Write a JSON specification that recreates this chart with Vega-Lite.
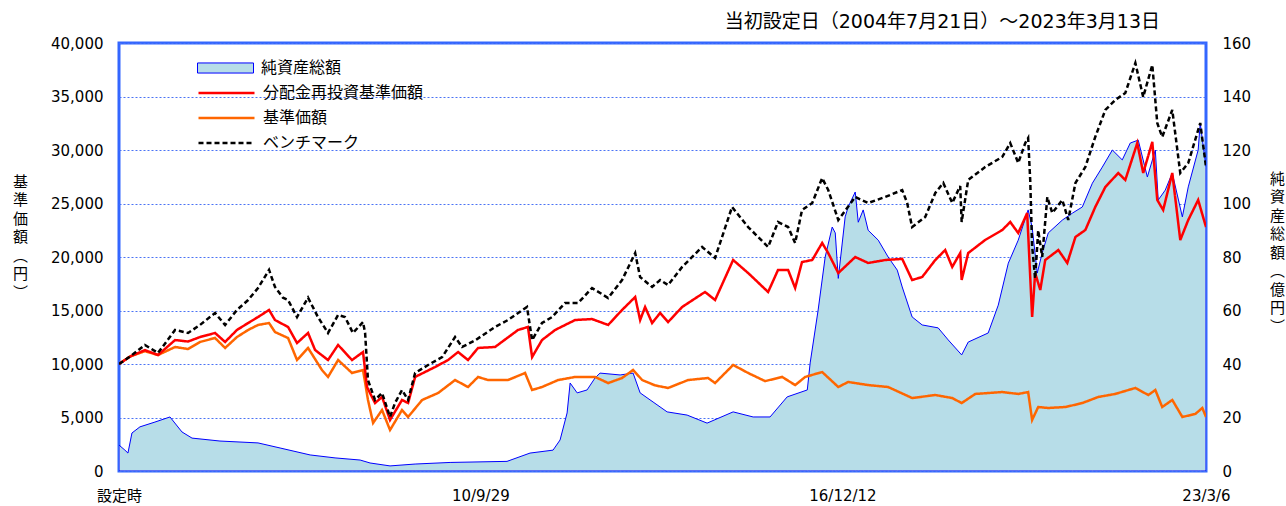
{
  "$schema": "https://vega.github.io/schema/vega-lite/v6.json",
  "width": 1087,
  "height": 428,
  "autosize": {"type": "none"},
  "padding": {"left": 119, "top": 43, "right": 80, "bottom": 35},
  "background": "white",
  "title": {"text": "当初設定日（2004年7月21日）～2023年3月13日", "anchor": "end", "frame": "group", "dx": -46, "offset": 4, "fontSize": 19, "fontWeight": "normal", "font": "DejaVu Sans, Noto Sans CJK JP", "color": "#000000"},
  "config": {
    "view": {"stroke": "#3366ff", "strokeWidth": 3},
    "axis": {"labelFont": "DejaVu Sans, Noto Sans CJK JP", "labelColor": "#000000", "labelFontSize": 15, "titleFont": "Noto Sans CJK JP", "titleColor": "#000000", "titleFontWeight": "normal"}
  },
  "datasets": {
    "assets": [
      {"d": "2004-07-21", "a": 9.7}, {"d": "2004-08-27", "a": 7.8}, {"d": "2004-09-15", "a": 6.7}, {"d": "2004-10-10", "a": 14.2},
      {"d": "2004-11-29", "a": 16.5}, {"d": "2005-03-03", "a": 18.3}, {"d": "2005-06-05", "a": 20.2}, {"d": "2005-08-19", "a": 14.6},
      {"d": "2005-10-21", "a": 12.3}, {"d": "2006-04-14", "a": 11.2}, {"d": "2006-12-08", "a": 10.5}, {"d": "2007-04-25", "a": 8.6},
      {"d": "2007-10-30", "a": 6.0}, {"d": "2008-04-03", "a": 4.9}, {"d": "2008-09-07", "a": 4.1}, {"d": "2008-11-08", "a": 3.0},
      {"d": "2009-03-13", "a": 1.9}, {"d": "2009-08-17", "a": 2.6}, {"d": "2010-03-24", "a": 3.2}, {"d": "2011-03-15", "a": 3.6},
      {"d": "2011-08-06", "a": 6.7}, {"d": "2011-12-28", "a": 7.8}, {"d": "2012-02-10", "a": 11.6}, {"d": "2012-03-25", "a": 21.7},
      {"d": "2012-04-13", "a": 32.9}, {"d": "2012-05-27", "a": 29.2}, {"d": "2012-07-28", "a": 30.3}, {"d": "2012-09-16", "a": 34.8},
      {"d": "2012-10-17", "a": 36.6}, {"d": "2013-02-20", "a": 35.9}, {"d": "2013-05-12", "a": 36.6}, {"d": "2013-06-25", "a": 29.2},
      {"d": "2013-09-14", "a": 25.8}, {"d": "2013-12-11", "a": 22.1}, {"d": "2014-04-15", "a": 20.9}, {"d": "2014-08-18", "a": 17.9},
      {"d": "2015-01-28", "a": 22.1}, {"d": "2015-06-02", "a": 20.2}, {"d": "2015-09-16", "a": 20.2}, {"d": "2016-01-01", "a": 27.7},
      {"d": "2016-05-06", "a": 30.3}, {"d": "2016-05-24", "a": 40.4}, {"d": "2016-07-13", "a": 60.2}, {"d": "2016-08-26", "a": 80},
      {"d": "2016-10-09", "a": 91.2}, {"d": "2016-10-28", "a": 89}, {"d": "2016-11-16", "a": 72}, {"d": "2016-12-29", "a": 95},
      {"d": "2017-01-17", "a": 98.7}, {"d": "2017-03-02", "a": 104.3}, {"d": "2017-03-21", "a": 93}, {"d": "2017-04-21", "a": 97.6},
      {"d": "2017-05-22", "a": 90}, {"d": "2017-07-24", "a": 86.3}, {"d": "2017-09-24", "a": 80}, {"d": "2017-11-20", "a": 75.1},
      {"d": "2017-12-21", "a": 68.8}, {"d": "2018-02-21", "a": 57.6}, {"d": "2018-04-25", "a": 54.6}, {"d": "2018-08-03", "a": 53.5},
      {"d": "2018-10-05", "a": 49}, {"d": "2018-12-28", "a": 43.4}, {"d": "2019-02-07", "a": 48.2}, {"d": "2019-06-12", "a": 51.6},
      {"d": "2019-08-14", "a": 62}, {"d": "2019-10-16", "a": 77.7}, {"d": "2019-12-17", "a": 86.3}, {"d": "2020-02-17", "a": 97.6},
      {"d": "2020-03-13", "a": 91.2}, {"d": "2020-04-14", "a": 74}, {"d": "2020-05-15", "a": 81.5}, {"d": "2020-06-22", "a": 89},
      {"d": "2020-09-18", "a": 93.8}, {"d": "2020-11-20", "a": 96.4}, {"d": "2021-01-21", "a": 98.7}, {"d": "2021-03-25", "a": 107.6},
      {"d": "2021-05-26", "a": 113.6}, {"d": "2021-07-28", "a": 120}, {"d": "2021-09-28", "a": 116.3}, {"d": "2021-11-17", "a": 122.6},
      {"d": "2022-01-06", "a": 123.7}, {"d": "2022-03-04", "a": 109.9}, {"d": "2022-04-23", "a": 120}, {"d": "2022-05-11", "a": 101.3},
      {"d": "2022-06-24", "a": 105}, {"d": "2022-08-07", "a": 111.4}, {"d": "2022-10-09", "a": 95}, {"d": "2022-11-15", "a": 106.2},
      {"d": "2023-01-16", "a": 120}, {"d": "2023-01-29", "a": 130}, {"d": "2023-03-06", "a": 113.6}
    ],
    "nav": [
      {"s": "基準価額", "d": "2004-07-21", "v": 10000}, {"s": "基準価額", "d": "2004-09-28", "v": 10700}, {"s": "基準価額", "d": "2004-12-30", "v": 11200},
      {"s": "基準価額", "d": "2005-03-22", "v": 10840}, {"s": "基準価額", "d": "2005-07-07", "v": 11590}, {"s": "基準価額", "d": "2005-09-26", "v": 11400},
      {"s": "基準価額", "d": "2005-12-10", "v": 12060}, {"s": "基準価額", "d": "2006-03-14", "v": 12430}, {"s": "基準価額", "d": "2006-05-16", "v": 11500},
      {"s": "基準価額", "d": "2006-07-29", "v": 12520}, {"s": "基準価額", "d": "2006-10-07", "v": 13180}, {"s": "基準価額", "d": "2006-12-08", "v": 13650},
      {"s": "基準価額", "d": "2007-02-15", "v": 13830}, {"s": "基準価額", "d": "2007-03-24", "v": 12990}, {"s": "基準価額", "d": "2007-06-14", "v": 12430},
      {"s": "基準価額", "d": "2007-08-09", "v": 10370}, {"s": "基準価額", "d": "2007-10-17", "v": 11500}, {"s": "基準価額", "d": "2008-01-12", "v": 9440},
      {"s": "基準価額", "d": "2008-02-19", "v": 8790}, {"s": "基準価額", "d": "2008-04-22", "v": 10370}, {"s": "基準価額", "d": "2008-07-18", "v": 9160},
      {"s": "基準価額", "d": "2008-09-25", "v": 9440}, {"s": "基準価額", "d": "2008-10-26", "v": 6640}, {"s": "基準価額", "d": "2008-11-27", "v": 4490},
      {"s": "基準価額", "d": "2009-01-22", "v": 5700}, {"s": "基準価額", "d": "2009-03-13", "v": 3830}, {"s": "基準価額", "d": "2009-05-27", "v": 5700},
      {"s": "基準価額", "d": "2009-07-04", "v": 5050}, {"s": "基準価額", "d": "2009-09-30", "v": 6640}, {"s": "基準価額", "d": "2010-01-08", "v": 7290},
      {"s": "基準価額", "d": "2010-04-24", "v": 8500}, {"s": "基準価額", "d": "2010-07-14", "v": 7850}, {"s": "基準価額", "d": "2010-09-15", "v": 8790},
      {"s": "基準価額", "d": "2010-11-16", "v": 8500}, {"s": "基準価額", "d": "2011-03-21", "v": 8500}, {"s": "基準価額", "d": "2011-07-06", "v": 9160},
      {"s": "基準価額", "d": "2011-08-19", "v": 7570}, {"s": "基準価額", "d": "2011-10-20", "v": 7850}, {"s": "基準価額", "d": "2012-01-29", "v": 8500},
      {"s": "基準価額", "d": "2012-05-14", "v": 8790}, {"s": "基準価額", "d": "2012-09-16", "v": 8790}, {"s": "基準価額", "d": "2012-12-07", "v": 8220},
      {"s": "基準価額", "d": "2013-03-04", "v": 8690}, {"s": "基準価額", "d": "2013-05-12", "v": 9440}, {"s": "基準価額", "d": "2013-07-08", "v": 8500},
      {"s": "基準価額", "d": "2013-09-27", "v": 8000}, {"s": "基準価額", "d": "2013-12-17", "v": 7760}, {"s": "基準価額", "d": "2014-04-21", "v": 8500},
      {"s": "基準価額", "d": "2014-08-24", "v": 8690}, {"s": "基準価額", "d": "2014-10-07", "v": 8220}, {"s": "基準価額", "d": "2015-01-28", "v": 9910},
      {"s": "基準価額", "d": "2015-05-02", "v": 9160}, {"s": "基準価額", "d": "2015-08-16", "v": 8400}, {"s": "基準価額", "d": "2015-12-01", "v": 8790},
      {"s": "基準価額", "d": "2016-02-20", "v": 8030}, {"s": "基準価額", "d": "2016-04-23", "v": 8790}, {"s": "基準価額", "d": "2016-08-07", "v": 9250},
      {"s": "基準価額", "d": "2016-11-16", "v": 7850}, {"s": "基準価額", "d": "2017-01-17", "v": 8320}, {"s": "基準価額", "d": "2017-05-22", "v": 8030},
      {"s": "基準価額", "d": "2017-09-24", "v": 7850}, {"s": "基準価額", "d": "2018-02-21", "v": 6820}, {"s": "基準価額", "d": "2018-07-16", "v": 7100},
      {"s": "基準価額", "d": "2018-10-30", "v": 6820}, {"s": "基準価額", "d": "2018-12-28", "v": 6350}, {"s": "基準価額", "d": "2019-03-23", "v": 7200},
      {"s": "基準価額", "d": "2019-09-08", "v": 7380}, {"s": "基準価額", "d": "2019-12-17", "v": 7200}, {"s": "基準価額", "d": "2020-02-17", "v": 7380},
      {"s": "基準価額", "d": "2020-03-13", "v": 4770}, {"s": "基準価額", "d": "2020-04-20", "v": 5980}, {"s": "基準価額", "d": "2020-06-22", "v": 5890},
      {"s": "基準価額", "d": "2020-10-07", "v": 5980}, {"s": "基準価額", "d": "2021-01-21", "v": 6350}, {"s": "基準価額", "d": "2021-05-01", "v": 6920},
      {"s": "基準価額", "d": "2021-08-15", "v": 7200}, {"s": "基準価額", "d": "2021-12-19", "v": 7760}, {"s": "基準価額", "d": "2022-03-10", "v": 7100},
      {"s": "基準価額", "d": "2022-04-23", "v": 7570}, {"s": "基準価額", "d": "2022-06-05", "v": 5980}, {"s": "基準価額", "d": "2022-08-07", "v": 6640},
      {"s": "基準価額", "d": "2022-10-09", "v": 5050}, {"s": "基準価額", "d": "2022-12-29", "v": 5330}, {"s": "基準価額", "d": "2023-02-11", "v": 5890},
      {"s": "基準価額", "d": "2023-03-06", "v": 5050},

      {"s": "分配金再投資基準価額", "d": "2004-07-21", "v": 10000}, {"s": "分配金再投資基準価額", "d": "2004-09-28", "v": 10700}, {"s": "分配金再投資基準価額", "d": "2004-12-30", "v": 11300},
      {"s": "分配金再投資基準価額", "d": "2005-03-22", "v": 10840}, {"s": "分配金再投資基準価額", "d": "2005-07-07", "v": 12240}, {"s": "分配金再投資基準価額", "d": "2005-09-26", "v": 12100},
      {"s": "分配金再投資基準価額", "d": "2005-12-10", "v": 12520}, {"s": "分配金再投資基準価額", "d": "2006-03-14", "v": 12900}, {"s": "分配金再投資基準価額", "d": "2006-05-16", "v": 12060},
      {"s": "分配金再投資基準価額", "d": "2006-07-29", "v": 13180}, {"s": "分配金再投資基準価額", "d": "2006-10-07", "v": 13830}, {"s": "分配金再投資基準価額", "d": "2006-12-08", "v": 14390},
      {"s": "分配金再投資基準価額", "d": "2007-02-15", "v": 15050}, {"s": "分配金再投資基準価額", "d": "2007-03-24", "v": 14110}, {"s": "分配金再投資基準価額", "d": "2007-06-14", "v": 13460},
      {"s": "分配金再投資基準価額", "d": "2007-08-09", "v": 11960}, {"s": "分配金再投資基準価額", "d": "2007-10-17", "v": 12900}, {"s": "分配金再投資基準価額", "d": "2007-11-30", "v": 11310},
      {"s": "分配金再投資基準価額", "d": "2008-02-19", "v": 10370}, {"s": "分配金再投資基準価額", "d": "2008-04-22", "v": 11780}, {"s": "分配金再投資基準価額", "d": "2008-07-18", "v": 10370},
      {"s": "分配金再投資基準価額", "d": "2008-09-25", "v": 11120}, {"s": "分配金再投資基準価額", "d": "2008-10-20", "v": 7850}, {"s": "分配金再投資基準価額", "d": "2008-12-09", "v": 6350},
      {"s": "分配金再投資基準価額", "d": "2009-01-22", "v": 6920}, {"s": "分配金再投資基準価額", "d": "2009-03-13", "v": 4770}, {"s": "分配金再投資基準価額", "d": "2009-05-27", "v": 6640},
      {"s": "分配金再投資基準価額", "d": "2009-07-04", "v": 6350}, {"s": "分配金再投資基準価額", "d": "2009-08-17", "v": 8790}, {"s": "分配金再投資基準価額", "d": "2009-12-20", "v": 9720},
      {"s": "分配金再投資基準価額", "d": "2010-03-11", "v": 10370}, {"s": "分配金再投資基準価額", "d": "2010-05-13", "v": 11120}, {"s": "分配金再投資基準価額", "d": "2010-07-14", "v": 10370},
      {"s": "分配金再投資基準価額", "d": "2010-09-15", "v": 11500}, {"s": "分配金再投資基準価額", "d": "2010-12-30", "v": 11590}, {"s": "分配金再投資基準価額", "d": "2011-05-23", "v": 13180},
      {"s": "分配金再投資基準価額", "d": "2011-07-24", "v": 13460}, {"s": "分配金再投資基準価額", "d": "2011-08-19", "v": 10650}, {"s": "分配金再投資基準価額", "d": "2011-10-20", "v": 12240},
      {"s": "分配金再投資基準価額", "d": "2012-01-10", "v": 13180}, {"s": "分配金再投資基準価額", "d": "2012-05-14", "v": 14110}, {"s": "分配金再投資基準価額", "d": "2012-08-28", "v": 14200},
      {"s": "分配金再投資基準価額", "d": "2012-12-07", "v": 13650}, {"s": "分配金再投資基準価額", "d": "2013-03-04", "v": 15050}, {"s": "分配金再投資基準価額", "d": "2013-05-25", "v": 16260},
      {"s": "分配金再投資基準価額", "d": "2013-06-25", "v": 14110}, {"s": "分配金再投資基準価額", "d": "2013-07-26", "v": 15330}, {"s": "分配金再投資基準価額", "d": "2013-09-08", "v": 13830},
      {"s": "分配金再投資基準価額", "d": "2013-10-28", "v": 14770}, {"s": "分配金再投資基準価額", "d": "2013-12-17", "v": 13920}, {"s": "分配金再投資基準価額", "d": "2014-03-15", "v": 15330},
      {"s": "分配金再投資基準価額", "d": "2014-08-05", "v": 16730}, {"s": "分配金再投資基準価額", "d": "2014-10-07", "v": 15980}, {"s": "分配金再投資基準価額", "d": "2015-01-28", "v": 19720},
      {"s": "分配金再投資基準価額", "d": "2015-05-02", "v": 18500}, {"s": "分配金再投資基準価額", "d": "2015-09-04", "v": 16730}, {"s": "分配金再投資基準価額", "d": "2015-11-05", "v": 18790},
      {"s": "分配金再投資基準価額", "d": "2016-01-07", "v": 18790}, {"s": "分配金再投資基準価額", "d": "2016-02-20", "v": 17100}, {"s": "分配金再投資基準価額", "d": "2016-04-03", "v": 19530},
      {"s": "分配金再投資基準価額", "d": "2016-06-06", "v": 19720}, {"s": "分配金再投資基準価額", "d": "2016-08-07", "v": 21310}, {"s": "分配金再投資基準価額", "d": "2016-09-14", "v": 20370},
      {"s": "分配金再投資基準価額", "d": "2016-11-16", "v": 18500}, {"s": "分配金再投資基準価額", "d": "2017-03-02", "v": 20000}, {"s": "分配金再投資基準価額", "d": "2017-05-22", "v": 19440},
      {"s": "分配金再投資基準価額", "d": "2017-09-06", "v": 19720}, {"s": "分配金再投資基準価額", "d": "2017-12-21", "v": 19820}, {"s": "分配金再投資基準価額", "d": "2018-02-21", "v": 17850},
      {"s": "分配金再投資基準価額", "d": "2018-04-25", "v": 18130}, {"s": "分配金再投資基準価額", "d": "2018-07-16", "v": 19720}, {"s": "分配金再投資基準価額", "d": "2018-09-16", "v": 20650},
      {"s": "分配金再投資基準価額", "d": "2018-10-30", "v": 19070}, {"s": "分配金再投資基準価額", "d": "2018-12-19", "v": 20370}, {"s": "分配金再投資基準価額", "d": "2018-12-28", "v": 17850},
      {"s": "分配金再投資基準価額", "d": "2019-02-07", "v": 20370}, {"s": "分配金再投資基準価額", "d": "2019-05-24", "v": 21590}, {"s": "分配金再投資基準価額", "d": "2019-09-08", "v": 22520},
      {"s": "分配金再投資基準価額", "d": "2019-10-28", "v": 23270}, {"s": "分配金再投資基準価額", "d": "2019-12-17", "v": 22240}, {"s": "分配金再投資基準価額", "d": "2020-02-11", "v": 24110},
      {"s": "分配金再投資基準価額", "d": "2020-03-13", "v": 14390}, {"s": "分配金再投資基準価額", "d": "2020-04-01", "v": 18500}, {"s": "分配金再投資基準価額", "d": "2020-05-03", "v": 16920},
      {"s": "分配金再投資基準価額", "d": "2020-06-03", "v": 19720}, {"s": "分配金再投資基準価額", "d": "2020-08-24", "v": 20650}, {"s": "分配金再投資基準価額", "d": "2020-10-19", "v": 19440},
      {"s": "分配金再投資基準価額", "d": "2020-12-09", "v": 21870}, {"s": "分配金再投資基準価額", "d": "2021-02-09", "v": 22520}, {"s": "分配金再投資基準価額", "d": "2021-04-12", "v": 24670},
      {"s": "分配金再投資基準価額", "d": "2021-06-14", "v": 26540}, {"s": "分配金再投資基準価額", "d": "2021-09-03", "v": 27850}, {"s": "分配金再投資基準価額", "d": "2021-10-17", "v": 27200},
      {"s": "分配金再投資基準価額", "d": "2021-12-31", "v": 30650}, {"s": "分配金再投資基準価額", "d": "2022-02-06", "v": 27850}, {"s": "分配金再投資基準価額", "d": "2022-04-04", "v": 30750},
      {"s": "分配金再投資基準価額", "d": "2022-05-05", "v": 25330}, {"s": "分配金再投資基準価額", "d": "2022-06-11", "v": 24390}, {"s": "分配金再投資基準価額", "d": "2022-08-07", "v": 27850},
      {"s": "分配金再投資基準価額", "d": "2022-09-26", "v": 21590}, {"s": "分配金再投資基準価額", "d": "2022-11-15", "v": 23460}, {"s": "分配金再投資基準価額", "d": "2023-01-16", "v": 25330},
      {"s": "分配金再投資基準価額", "d": "2023-03-06", "v": 22800},

      {"s": "ベンチマーク", "d": "2004-07-21", "v": 10000}, {"s": "ベンチマーク", "d": "2004-09-28", "v": 10700}, {"s": "ベンチマーク", "d": "2004-12-30", "v": 11780},
      {"s": "ベンチマーク", "d": "2005-03-22", "v": 11030}, {"s": "ベンチマーク", "d": "2005-07-07", "v": 13180}, {"s": "ベンチマーク", "d": "2005-09-26", "v": 12900},
      {"s": "ベンチマーク", "d": "2005-12-10", "v": 13650}, {"s": "ベンチマーク", "d": "2006-03-14", "v": 14770}, {"s": "ベンチマーク", "d": "2006-05-16", "v": 13650},
      {"s": "ベンチマーク", "d": "2006-07-29", "v": 15050}, {"s": "ベンチマーク", "d": "2006-10-07", "v": 15980}, {"s": "ベンチマーク", "d": "2006-12-08", "v": 17100},
      {"s": "ベンチマーク", "d": "2007-02-15", "v": 18790}, {"s": "ベンチマーク", "d": "2007-03-24", "v": 17200}, {"s": "ベンチマーク", "d": "2007-05-13", "v": 16200},
      {"s": "ベンチマーク", "d": "2007-06-14", "v": 15980}, {"s": "ベンチマーク", "d": "2007-08-09", "v": 14390}, {"s": "ベンチマーク", "d": "2007-10-17", "v": 16200},
      {"s": "ベンチマーク", "d": "2007-12-18", "v": 14390}, {"s": "ベンチマーク", "d": "2008-02-19", "v": 12900}, {"s": "ベンチマーク", "d": "2008-04-22", "v": 14580},
      {"s": "ベンチマーク", "d": "2008-06-04", "v": 14390}, {"s": "ベンチマーク", "d": "2008-07-24", "v": 12900}, {"s": "ベンチマーク", "d": "2008-09-25", "v": 13920},
      {"s": "ベンチマーク", "d": "2008-10-08", "v": 12900}, {"s": "ベンチマーク", "d": "2008-10-26", "v": 8500}, {"s": "ベンチマーク", "d": "2008-12-09", "v": 6640},
      {"s": "ベンチマーク", "d": "2009-01-22", "v": 7290}, {"s": "ベンチマーク", "d": "2009-03-13", "v": 5050}, {"s": "ベンチマーク", "d": "2009-04-13", "v": 6350},
      {"s": "ベンチマーク", "d": "2009-05-27", "v": 7570}, {"s": "ベンチマーク", "d": "2009-07-04", "v": 6640}, {"s": "ベンチマーク", "d": "2009-08-17", "v": 9160},
      {"s": "ベンチマーク", "d": "2009-11-06", "v": 9910}, {"s": "ベンチマーク", "d": "2010-02-02", "v": 10650}, {"s": "ベンチマーク", "d": "2010-04-24", "v": 12520},
      {"s": "ベンチマーク", "d": "2010-06-07", "v": 11590}, {"s": "ベンチマーク", "d": "2010-08-27", "v": 12200}, {"s": "ベンチマーク", "d": "2010-12-30", "v": 13460},
      {"s": "ベンチマーク", "d": "2011-03-21", "v": 14110}, {"s": "ベンチマーク", "d": "2011-07-18", "v": 15330}, {"s": "ベンチマーク", "d": "2011-08-19", "v": 12240},
      {"s": "ベンチマーク", "d": "2011-10-20", "v": 13830}, {"s": "ベンチマーク", "d": "2011-12-22", "v": 14390}, {"s": "ベンチマーク", "d": "2012-03-12", "v": 15700},
      {"s": "ベンチマーク", "d": "2012-06-02", "v": 15700}, {"s": "ベンチマーク", "d": "2012-08-28", "v": 17100}, {"s": "ベンチマーク", "d": "2012-12-07", "v": 16170},
      {"s": "ベンチマーク", "d": "2013-03-04", "v": 17850}, {"s": "ベンチマーク", "d": "2013-05-25", "v": 20370}, {"s": "ベンチマーク", "d": "2013-06-25", "v": 18130},
      {"s": "ベンチマーク", "d": "2013-09-08", "v": 17200}, {"s": "ベンチマーク", "d": "2013-10-28", "v": 17850}, {"s": "ベンチマーク", "d": "2013-12-17", "v": 17380},
      {"s": "ベンチマーク", "d": "2014-03-15", "v": 19070}, {"s": "ベンチマーク", "d": "2014-07-18", "v": 20940}, {"s": "ベンチマーク", "d": "2014-10-07", "v": 19910},
      {"s": "ベンチマーク", "d": "2015-01-21", "v": 24670}, {"s": "ベンチマーク", "d": "2015-05-02", "v": 22800}, {"s": "ベンチマーク", "d": "2015-09-04", "v": 20940},
      {"s": "ベンチマーク", "d": "2015-11-05", "v": 23270}, {"s": "ベンチマーク", "d": "2016-01-07", "v": 22800}, {"s": "ベンチマーク", "d": "2016-02-20", "v": 21310},
      {"s": "ベンチマーク", "d": "2016-04-03", "v": 24390}, {"s": "ベンチマーク", "d": "2016-06-06", "v": 25050}, {"s": "ベンチマーク", "d": "2016-08-07", "v": 27380},
      {"s": "ベンチマーク", "d": "2016-09-14", "v": 26260}, {"s": "ベンチマーク", "d": "2016-11-16", "v": 23460}, {"s": "ベンチマーク", "d": "2017-03-02", "v": 25610},
      {"s": "ベンチマーク", "d": "2017-05-22", "v": 25050}, {"s": "ベンチマーク", "d": "2017-09-06", "v": 25610}, {"s": "ベンチマーク", "d": "2017-12-21", "v": 26260},
      {"s": "ベンチマーク", "d": "2018-01-21", "v": 25050}, {"s": "ベンチマーク", "d": "2018-02-21", "v": 22800}, {"s": "ベンチマーク", "d": "2018-05-14", "v": 23740},
      {"s": "ベンチマーク", "d": "2018-07-16", "v": 25980}, {"s": "ベンチマーク", "d": "2018-09-04", "v": 26920}, {"s": "ベンチマーク", "d": "2018-10-30", "v": 25050},
      {"s": "ベンチマーク", "d": "2018-12-19", "v": 26640}, {"s": "ベンチマーク", "d": "2018-12-28", "v": 23270}, {"s": "ベンチマーク", "d": "2019-02-07", "v": 27200},
      {"s": "ベンチマーク", "d": "2019-05-24", "v": 28410}, {"s": "ベンチマーク", "d": "2019-09-08", "v": 29350}, {"s": "ベンチマーク", "d": "2019-10-28", "v": 30650},
      {"s": "ベンチマーク", "d": "2019-12-17", "v": 28790}, {"s": "ベンチマーク", "d": "2020-01-30", "v": 30650}, {"s": "ベンチマーク", "d": "2020-02-17", "v": 31120},
      {"s": "ベンチマーク", "d": "2020-03-01", "v": 27200}, {"s": "ベンチマーク", "d": "2020-03-13", "v": 21000}, {"s": "ベンチマーク", "d": "2020-04-01", "v": 18000},
      {"s": "ベンチマーク", "d": "2020-04-20", "v": 22500}, {"s": "ベンチマーク", "d": "2020-05-15", "v": 20000}, {"s": "ベンチマーク", "d": "2020-06-16", "v": 25610},
      {"s": "ベンチマーク", "d": "2020-07-17", "v": 24110}, {"s": "ベンチマーク", "d": "2020-09-18", "v": 25330}, {"s": "ベンチマーク", "d": "2020-10-25", "v": 23460},
      {"s": "ベンチマーク", "d": "2020-12-09", "v": 26920}, {"s": "ベンチマーク", "d": "2021-02-09", "v": 28410}, {"s": "ベンチマーク", "d": "2021-04-12", "v": 31220},
      {"s": "ベンチマーク", "d": "2021-06-14", "v": 33740}, {"s": "ベンチマーク", "d": "2021-08-15", "v": 34670}, {"s": "ベンチマーク", "d": "2021-10-17", "v": 35330},
      {"s": "ベンチマーク", "d": "2021-12-19", "v": 38130}, {"s": "ベンチマーク", "d": "2022-02-06", "v": 34950}, {"s": "ベンチマーク", "d": "2022-04-04", "v": 37950},
      {"s": "ベンチマーク", "d": "2022-05-05", "v": 32520}, {"s": "ベンチマーク", "d": "2022-06-05", "v": 31220}, {"s": "ベンチマーク", "d": "2022-08-07", "v": 33740},
      {"s": "ベンチマーク", "d": "2022-09-26", "v": 27850}, {"s": "ベンチマーク", "d": "2022-11-15", "v": 28790}, {"s": "ベンチマーク", "d": "2023-01-29", "v": 32520},
      {"s": "ベンチマーク", "d": "2023-03-06", "v": 28410}
    ]
  },
  "layer": [
    {
      "data": {"name": "assets"},
      "mark": {"type": "area", "stroke": "#0000ff", "strokeWidth": 1, "clip": true},
      "encoding": {
        "x": {"field": "d", "type": "temporal",
          "scale": {"domain": [{"year": 2004, "month": 7, "date": 21}, {"year": 2023, "month": 3, "date": 6}]},
          "axis": {"values": [{"year": 2004, "month": 7, "date": 21}, {"year": 2010, "month": 9, "date": 29}, {"year": 2016, "month": 12, "date": 12}, {"year": 2023, "month": 3, "date": 6}],
            "labelExpr": "datum.index < 0.1 ? '設定時' : datum.index < 0.5 ? '10/9/29' : datum.index < 0.9 ? '16/12/12' : '23/3/6'",
            "title": null, "grid": false, "domain": false, "ticks": false, "labelPadding": 17, "labelFlush": false, "labelOverlap": false, "labelBound": false}},
        "y": {"field": "a", "type": "quantitative",
          "scale": {"domain": [0, 160], "nice": false},
          "axis": {"orient": "right", "values": [0, 20, 40, 60, 80, 100, 120, 140, 160], "format": "d", "grid": false, "domain": false, "ticks": false, "labelPadding": 16,
            "title": ["純", "資", "産", "総", "額", "︵", "億", "円", "︶"], "titleAngle": 0, "titleX": 71, "titleY": 128, "titleAlign": "center", "titleBaseline": "top", "titleFontSize": 15, "titleLineHeight": 18.5}},
        "fill": {"datum": "純資産総額", "type": "nominal",
          "scale": {"domain": ["純資産総額"], "range": ["#b7dde8"]},
          "legend": {"orient": "none", "legendX": 78, "legendY": 17, "title": null, "padding": 0, "labelFontSize": 16, "labelFont": "Noto Sans CJK JP", "labelColor": "#000000", "labelLimit": 400,
            "symbolSize": 3136, "symbolType": "M-1,-0.18H1V0.18H-1Z", "symbolStrokeColor": "#0000ff", "symbolStrokeWidth": 1, "symbolFillColor": "#b7dde8", "symbolOpacity": 1, "clipHeight": 16, "rowPadding": 9, "labelOffset": 7}}
      }
    },
    {
      "data": {"name": "nav"},
      "mark": {"type": "line", "strokeWidth": 2.5, "clip": true},
      "encoding": {
        "x": {"field": "d", "type": "temporal"},
        "y": {"field": "v", "type": "quantitative",
          "scale": {"domain": [0, 40000], "nice": false},
          "axis": {"orient": "left", "values": [0, 5000, 10000, 15000, 20000, 25000, 30000, 35000, 40000], "format": ",d", "grid": true, "gridColor": "#4a73f5", "gridDash": [2, 2], "gridWidth": 1, "domain": false, "ticks": false, "labelPadding": 16,
            "title": ["基", "準", "価", "額", "︵", "円", "︶"], "titleAngle": 0, "titleX": -99, "titleY": 131, "titleAlign": "center", "titleBaseline": "top", "titleFontSize": 15, "titleLineHeight": 18.5}},
        "stroke": {"field": "s", "type": "nominal",
          "scale": {"domain": ["分配金再投資基準価額", "基準価額", "ベンチマーク"], "range": ["#ff0000", "#ff6600", "#000000"]},
          "legend": {"orient": "none", "legendX": 78, "legendY": 42, "title": null, "padding": 0, "labelFontSize": 16, "labelFont": "Noto Sans CJK JP", "labelColor": "#000000", "labelLimit": 400,
            "symbolSize": 3136, "symbolType": "stroke", "symbolStrokeWidth": 2.5, "clipHeight": 16, "rowPadding": 9, "labelOffset": 7}},
        "strokeDash": {"field": "s", "type": "nominal",
          "scale": {"domain": ["分配金再投資基準価額", "基準価額", "ベンチマーク"], "range": [[1, 0], [1, 0], [5, 3]]},
          "legend": {"orient": "none", "legendX": 78, "legendY": 42, "title": null, "padding": 0, "labelFontSize": 16, "labelFont": "Noto Sans CJK JP", "labelColor": "#000000", "labelLimit": 400,
            "symbolSize": 3136, "symbolType": "stroke", "symbolStrokeWidth": 2.5, "clipHeight": 16, "rowPadding": 9, "labelOffset": 7}}
      }
    }
  ],
  "resolve": {"scale": {"y": "independent"}}
}
